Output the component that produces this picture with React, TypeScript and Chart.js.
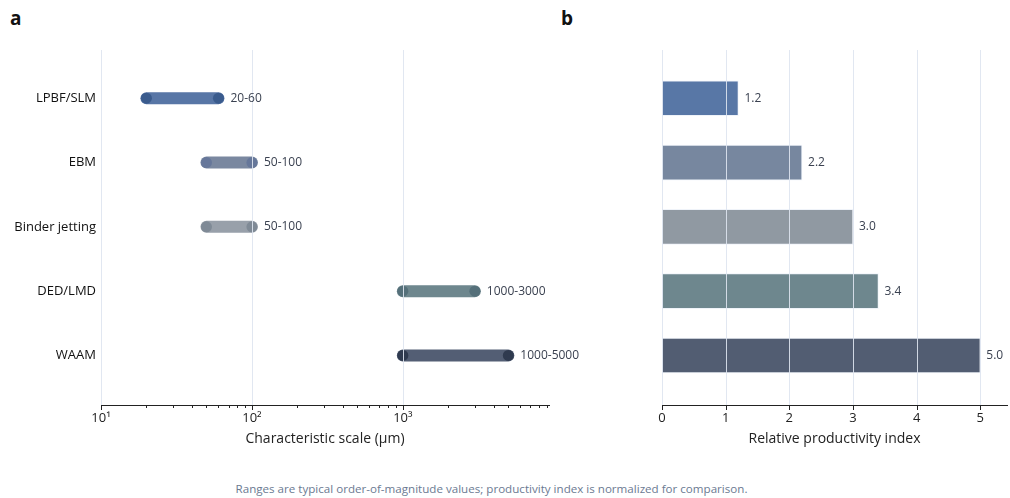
import React, { useEffect, useRef } from "react";
import { Chart, registerables } from "chart.js";

Chart.register(...registerables);

const categories = ["LPBF/SLM", "EBM", "Binder jetting", "DED/LMD", "WAAM"];
const rangeLow = [20, 50, 50, 1000, 1000];
const rangeHigh = [60, 100, 100, 3000, 5000];
const productivity = [1.2, 2.2, 3.0, 3.4, 5.0];
const decadeTicks = [10, 100, 1000];
const decadeLabels = ["10¹", "10²", "10³"];
const productivityTicks = [0, 1, 2, 3, 4, 5];

const lineColors = ["#5876a6", "#7a88a0", "#98a0aa", "#6e878e", "#535e74"];
const dotColors = ["#3a5b8d", "#66779a", "#7f8a96", "#55707a", "#2f3a4f"];
const barColors = ["#5877a6", "#77879f", "#9099a2", "#6e878e", "#525d72"];

const FONT = "'Open Sans', 'Noto Sans', sans-serif";
Chart.defaults.font.family = FONT;

const GRID_COLOR = "rgba(222,228,240,0.9)";

function gridPlugin(values: number[]) {
  return {
    id: "topGrid",
    afterDatasetsDraw(chart: any) {
      const { ctx, chartArea } = chart;
      const xs = chart.scales.x;
      ctx.save();
      ctx.strokeStyle = GRID_COLOR;
      ctx.lineWidth = 1;
      values.forEach((v) => {
        const px = Math.round(xs.getPixelForValue(v)) + 0.5;
        ctx.beginPath();
        ctx.moveTo(px, chartArea.top);
        ctx.lineTo(px, chartArea.bottom);
        ctx.stroke();
      });
      ctx.restore();
    },
  };
}

function tickPlugin(isMajor: (v: number) => boolean) {
  return {
    id: "tickMarks",
    afterDraw(chart: any) {
      const { ctx } = chart;
      const xs = chart.scales.x;
      ctx.save();
      ctx.strokeStyle = "#222";
      ctx.lineWidth = 1;
      xs.ticks.forEach((t: any) => {
        const px = Math.round(xs.getPixelForValue(t.value)) + 0.5;
        const len = isMajor(t.value) ? 5 : 3;
        ctx.beginPath();
        ctx.moveTo(px, xs.top);
        ctx.lineTo(px, xs.top + len);
        ctx.stroke();
      });
      ctx.restore();
    },
  };
}

const rangeLabelPlugin = {
  id: "rangeLabels",
  afterDatasetsDraw(chart: any) {
    const { ctx } = chart;
    ctx.save();
    ctx.font = `12px ${FONT}`;
    ctx.fillStyle = "#3a4150";
    ctx.textBaseline = "middle";
    ctx.textAlign = "left";
    chart.data.datasets.forEach((ds: any, i: number) => {
      const meta = chart.getDatasetMeta(i);
      const pt = meta.data[1];
      ctx.fillText(`${rangeLow[i]}-${rangeHigh[i]}`, pt.x + 12, pt.y);
    });
    ctx.restore();
  },
};

const barLabelPlugin = {
  id: "barLabels",
  afterDatasetsDraw(chart: any) {
    const { ctx } = chart;
    ctx.save();
    ctx.font = `12px ${FONT}`;
    ctx.fillStyle = "#3a4150";
    ctx.textBaseline = "middle";
    ctx.textAlign = "left";
    const meta = chart.getDatasetMeta(0);
    meta.data.forEach((el: any, i: number) => {
      ctx.fillText(productivity[i].toFixed(1), el.x + 6, el.y);
    });
    ctx.restore();
  },
};

export default function App() {
  const refA = useRef<HTMLCanvasElement>(null);
  const refB = useRef<HTMLCanvasElement>(null);

  useEffect(() => {
    const logTicks: number[] = [];
    [10, 100, 1000].forEach((d) => {
      for (let k = 1; k <= 9; k++) logTicks.push(k * d);
    });
    const xMaxA = 9300;

    const chartA = new Chart(refA.current!, {
      type: "scatter",
      data: {
        datasets: categories.map((c, i) => ({
          label: c,
          data: [
            { x: rangeLow[i], y: i },
            { x: rangeHigh[i], y: i },
          ],
          showLine: true,
          borderColor: lineColors[i],
          borderWidth: 12,
          borderCapStyle: "round" as const,
          pointRadius: 5.5,
          pointBackgroundColor: dotColors[i],
          pointBorderWidth: 0,
          pointHoverRadius: 5.5,
        })),
      },
      options: {
        responsive: false,
        animation: false,
        layout: { padding: { top: 50, right: 51, left: 0, bottom: 0 } },
        plugins: { legend: { display: false }, tooltip: { enabled: false } },
        events: [],
        scales: {
          x: {
            type: "logarithmic",
            min: 10,
            max: xMaxA,
            afterBuildTicks: (s: any) => {
              s.ticks = logTicks.filter((v) => v <= xMaxA).map((v) => ({ value: v }));
            },
            afterFit: (s: any) => {
              s.height = 46;
            },
            ticks: {
              autoSkip: false,
              maxRotation: 0,
              padding: 5,
              color: "#222",
              font: { size: 13 },
              callback: (v: any) => {
                const idx = decadeTicks.indexOf(Number(v));
                return idx >= 0 ? decadeLabels[idx] : "";
              },
            },
            grid: { display: false, drawTicks: false, tickLength: 0 },
            border: { display: true, color: "#222", width: 1 },
            title: {
              display: true,
              text: "Characteristic scale (µm)",
              color: "#222",
              font: { size: 14 },
              padding: { top: 0, bottom: 4 },
            },
          },
          y: {
            type: "linear",
            min: -0.75,
            max: 4.77,
            reverse: true,
            offset: false,
            afterBuildTicks: (s: any) => {
              s.ticks = categories.map((_, i) => ({ value: i }));
            },
            afterFit: (s: any) => {
              s.width = 101;
            },
            ticks: {
              autoSkip: false,
              padding: 5,
              color: "#111",
              font: { size: 13 },
              callback: (v: any) => categories[Number(v)] ?? "",
            },
            grid: { display: false, drawTicks: false, tickLength: 0 },
            border: { display: false },
          },
        },
      },
      plugins: [
        gridPlugin(decadeTicks),
        rangeLabelPlugin,
        tickPlugin((v) => decadeTicks.includes(v)),
      ],
    } as any);

    const chartB = new Chart(refB.current!, {
      type: "bar",
      data: {
        datasets: [
          {
            label: "Relative productivity index",
            data: productivity.map((v, i) => ({ x: v, y: i })),
            backgroundColor: barColors,
            borderColor: "rgba(235,240,248,0.8)",
            borderWidth: 1,
            borderSkipped: false,
            barThickness: 35,
          },
        ],
      },
      options: {
        indexAxis: "y",
        responsive: false,
        animation: false,
        events: [],
        layout: { padding: { top: 50, right: 3, left: 0, bottom: 0 } },
        plugins: { legend: { display: false }, tooltip: { enabled: false } },
        scales: {
          x: {
            type: "linear",
            min: 0,
            max: 5.42,
            afterBuildTicks: (s: any) => {
              s.ticks = productivityTicks.map((v) => ({ value: v }));
            },
            afterFit: (s: any) => {
              s.height = 46;
            },
            ticks: {
              autoSkip: false,
              maxRotation: 0,
              padding: 5,
              color: "#222",
              font: { size: 13 },
              callback: (v: any) => String(v),
            },
            grid: { display: false, drawTicks: false, tickLength: 0 },
            border: { display: true, color: "#222", width: 1 },
            title: {
              display: true,
              text: "Relative productivity index",
              color: "#222",
              font: { size: 14 },
              padding: { top: 0, bottom: 4 },
            },
          },
          y: {
            type: "linear",
            min: -0.75,
            max: 4.77,
            reverse: true,
            offset: false,
            grace: 0,
            afterFit: (s: any) => {
              s.width = 102;
            },
            ticks: { display: false },
            grid: { display: false, drawTicks: false },
            border: { display: false },
          },
        },
      },
      plugins: [
        gridPlugin(productivityTicks),
        barLabelPlugin,
        tickPlugin(() => true),
      ],
    } as any);

    return () => {
      chartA.destroy();
      chartB.destroy();
    };
  }, []);

  return (
    <div
      style={{
        position: "fixed",
        left: 0,
        top: 0,
        width: 1010,
        height: 498,
        background: "#fff",
        fontFamily: FONT,
      }}
    >
      <div style={{ position: "absolute", left: 10, top: 5, fontSize: 19, fontWeight: 700, color: "#111" }}>a</div>
      <div style={{ position: "absolute", left: 561, top: 5, fontSize: 19, fontWeight: 700, color: "#111" }}>b</div>
      <canvas ref={refA} width={600} height={451} style={{ position: "absolute", left: 0, top: 0 }} />
      <canvas ref={refB} width={450} height={451} style={{ position: "absolute", left: 560, top: 0 }} />
      <div
        style={{
          position: "absolute",
          left: 0,
          width: 983,
          top: 481,
          textAlign: "center",
          fontSize: 11.6,
          color: "#6b7a92",
        }}
      >
        Ranges are typical order-of-magnitude values; productivity index is normalized for comparison.
      </div>
    </div>
  );
}
